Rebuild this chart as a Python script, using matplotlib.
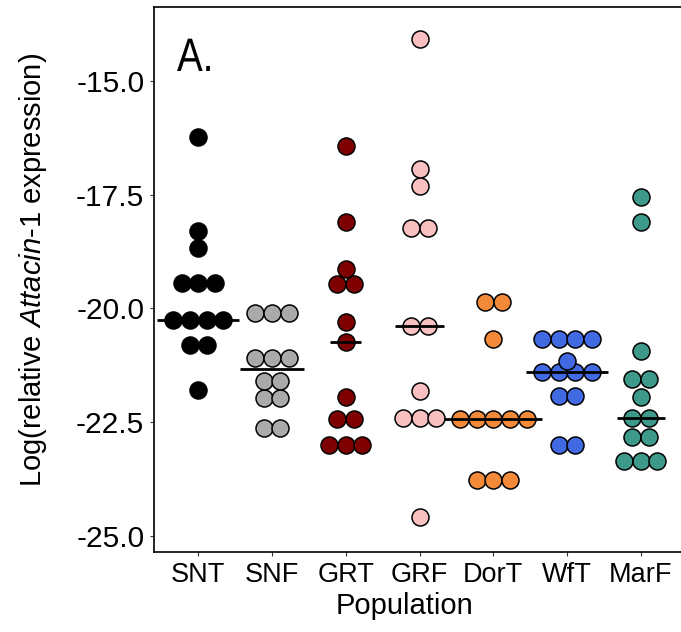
import numpy as np
import matplotlib
matplotlib.use("Agg")
import matplotlib.pyplot as plt
from matplotlib.textpath import TextPath
from matplotlib.patches import PathPatch
from matplotlib.font_manager import FontProperties
from matplotlib.transforms import Affine2D

plt.rcParams['font.family'] = ['Liberation Sans', 'DejaVu Sans']
plt.rcParams['mathtext.fontset'] = 'custom'
plt.rcParams['mathtext.rm'] = 'Liberation Sans'
plt.rcParams['mathtext.it'] = 'Liberation Sans:italic'

populations = ['SNT', 'SNF', 'GRT', 'GRF', 'DorT', 'WfT', 'MarF']
colors = ['#000000', '#AAAAAA', '#7F0000', '#F8C0C0', '#F28A3A', '#4169E1', '#3D9A8B']

snt = [-16.24, -18.30, -18.67, -19.44, -19.44, -19.44, -20.26, -20.26, -20.26, -20.26,
       -20.81, -20.81, -21.79]
snf = [-20.10, -20.10, -20.10, -21.09, -21.09, -21.09, -21.59, -21.59, -21.96, -21.96,
       -22.62, -22.62]
grt = [-16.43, -18.11, -19.14, -19.47, -19.47, -20.29, -20.73, -21.94, -22.43, -22.43,
       -23.00, -23.00, -23.00]
grf = [-14.08, -16.93, -17.30, -18.24, -18.24, -20.38, -20.38, -21.82, -22.41, -22.41,
       -22.41, -24.59]
dort = [-19.85, -19.85, -20.68, -22.43, -22.43, -22.43, -22.43, -22.43, -23.77, -23.77,
        -23.77]
wft = [-20.66, -20.66, -20.66, -20.66, -21.15, -21.40, -21.40, -21.40, -21.40, -21.92,
       -21.92, -23.00, -23.00]
marf = [-17.55, -18.10, -20.94, -21.54, -21.54, -21.95, -22.40, -22.40, -22.82, -22.82,
        -23.35, -23.35, -23.35]
groups = [snt, snf, grt, grf, dort, wft, marf]

yticks = [-15.0, -17.5, -20.0, -22.5, -25.0]

fig = plt.figure(figsize=(6.81, 6.32), dpi=100)
ax = fig.add_axes([154 / 681, 80 / 632, 531 / 681, 545 / 632])

step = 0.227  # horizontal spacing of stacked dots (x units)
for i, (vals, col) in enumerate(zip(groups, colors)):
    vals = np.array(vals)
    levels, counts = np.unique(vals, return_counts=True)
    xs, ys = [], []
    for lv, n in zip(levels, counts):
        for k in range(n):
            xs.append(i + (k - (n - 1) / 2) * step)
            ys.append(lv)
    ax.scatter(xs, ys, s=150, c=col, edgecolors='black', linewidths=1.1, zorder=3)
    med = np.median(vals)
    near = counts[np.abs(levels - med) < 0.05]
    if len(near):
        n_med = near.max()
    else:
        n_med = counts[np.argsort(np.abs(levels - med))[:2]].max()
    half = n_med * step / 2 + 0.1
    ax.plot([i - half, i + half], [med, med], color='black', lw=2, zorder=4,
            solid_capstyle='butt')

ax.set_xlim(-0.6, 6.6)
ax.set_ylim(-25.35, -13.377)
ax.set_xticks(range(len(populations)))
ax.set_xticklabels(populations, fontsize=19.5)
ax.set_yticks(yticks)
ax.set_yticklabels(['%.1f' % t for t in yticks], fontsize=21.5)
ax.tick_params(length=3, width=0.8, pad=4, color='#333333')
for sp in ax.spines.values():
    sp.set_linewidth(1.2)
ax.spines['right'].set_visible(False)

ax.set_xlabel('Population', fontsize=21)
ax.set_ylabel(r'Log(relative $\mathit{Attacin}$-$\mathit{1}$ expression)', fontsize=21)
ax.xaxis.set_label_coords((405 - 154) / 531, (552 - 592) / 545)
ax.yaxis.set_label_coords((49 - 154) / 531, 0.517)

# condensed "A." panel tag, drawn as a path in pixel units
tp = TextPath((0, 0), 'A.', size=47, prop=FontProperties(family='Liberation Sans'))
tr = Affine2D().scale(0.82, 1.0).translate(177, 632 - 71)
fig.patches.append(PathPatch(tr.transform_path(tp), facecolor='black', edgecolor='none',
                             transform=None, figure=fig))

fig.savefig('out.png', dpi=100)
